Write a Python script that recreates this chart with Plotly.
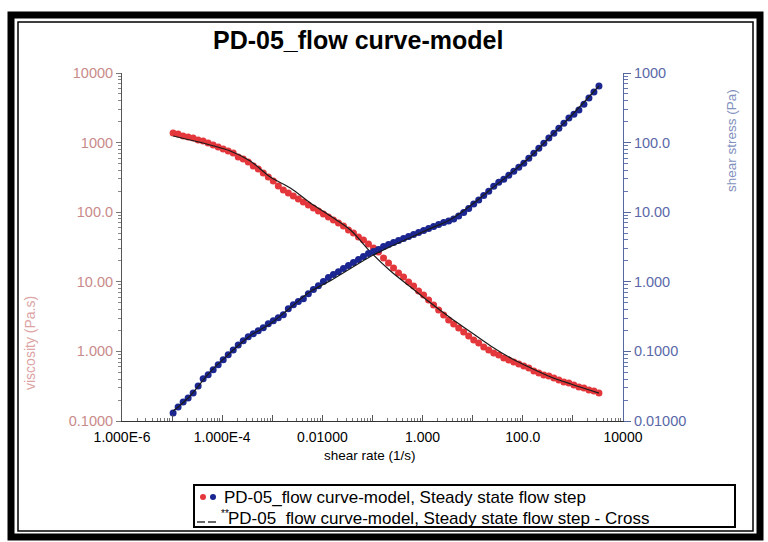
import plotly.graph_objects as go

# ---- measured flow curve (steady state flow step) ----
shear_rate = [
    1.047e-5, 1.318e-5, 1.660e-5, 2.089e-5, 2.630e-5, 3.311e-5, 4.169e-5, 5.248e-5, 6.607e-5, 8.318e-5,
    1.047e-4, 1.318e-4, 1.660e-4, 2.089e-4, 2.630e-4, 3.311e-4, 4.169e-4, 5.248e-4, 6.607e-4, 8.318e-4,
    1.047e-3, 1.318e-3, 1.660e-3, 2.089e-3, 2.630e-3, 3.311e-3, 4.169e-3, 5.248e-3, 6.607e-3, 8.318e-3,
    1.047e-2, 1.318e-2, 1.660e-2, 2.089e-2, 2.630e-2, 3.311e-2, 4.169e-2, 5.248e-2, 6.607e-2, 8.318e-2,
    0.1047, 0.1318, 0.1660, 0.2089, 0.2630, 0.3311, 0.4169, 0.5248, 0.6607, 0.8318,
    1.047, 1.318, 1.660, 2.089, 2.630, 3.311, 4.169, 5.248, 6.607, 8.318,
    10.47, 13.18, 16.60, 20.89, 26.30, 33.11, 41.69, 52.48, 66.07, 83.18,
    104.7, 131.8, 166.0, 208.9, 263.0, 331.1, 416.9, 524.8, 660.7, 831.8,
    1047, 1318, 1660, 2089, 2630, 3311,
]

viscosity = [
    1374, 1330, 1245, 1202, 1164, 1089, 1054, 986, 925, 865,
    809, 757, 710, 621, 581, 526, 461, 418, 366, 321,
    281, 238, 208, 189, 171, 155, 140, 127, 115, 104,
    94.2, 85.3, 77.3, 70.0, 63.4, 55.5, 50.2, 44.0, 39.9, 34.9,
    30.6, 26.8, 22.0, 18.6, 15.8, 13.4, 11.7, 9.93, 8.71, 7.38,
    6.46, 5.48, 4.65, 3.94, 3.33, 2.82, 2.48, 2.17, 1.90, 1.66,
    1.46, 1.32, 1.16, 1.05, 0.948, 0.887, 0.803, 0.752, 0.705, 0.659,
    0.617, 0.577, 0.522, 0.490, 0.458, 0.444, 0.415, 0.388, 0.363, 0.352,
    0.329, 0.308, 0.298, 0.279, 0.270, 0.252,
]

shear_stress = [
    0.0130, 0.0159, 0.0188, 0.0214, 0.0253, 0.0319, 0.0403, 0.0460, 0.0543, 0.0641,
    0.0757, 0.0893, 0.105, 0.124, 0.142, 0.162, 0.179, 0.198, 0.219, 0.250,
    0.276, 0.305, 0.337, 0.411, 0.469, 0.519, 0.573, 0.676, 0.773, 0.881,
    1.01, 1.15, 1.27, 1.40, 1.55, 1.71, 1.89, 2.09, 2.31, 2.55,
    2.72, 2.91, 3.21, 3.44, 3.67, 3.93, 4.19, 4.48, 4.79, 5.12,
    5.47, 5.85, 6.24, 6.67, 7.13, 7.50, 8.00, 8.80, 9.90, 11.3,
    13.1, 15.0, 17.4, 20.0, 23.6, 26.9, 29.7, 33.9, 38.7, 44.3,
    50.5, 59.6, 70.3, 83.0, 97.9, 116, 136, 161, 190, 225,
    256, 293, 357, 436, 532, 650,
]

# ---- Cross model fit ----
model_rate = [1.05e-5, 2.29e-5, 5.75e-5, 1.45e-4, 3.63e-4, 9.12e-4, 2.29e-3, 5.75e-3,
              0.0145, 0.0363, 0.0912, 0.229, 0.575, 1.45, 3.63, 9.12, 22.9, 57.5,
              145, 363, 912, 3311]
model_viscosity = [1245, 1089, 925, 757, 545, 321, 223, 136, 88.1, 55.5, 26.8, 14.3,
                   8.41, 4.95, 3.02, 1.90, 1.20, 0.803, 0.577, 0.429, 0.340, 0.252]
model_stress = [0.0139, 0.0229, 0.0508, 0.0955, 0.168, 0.250, 0.425, 0.723, 1.04, 1.55,
                2.31, 3.21, 4.34, 5.85, 7.87, 12.5, 21.3, 36.2, 63.7, 124, 240, 650]

# ---- axis tick labels ----
x_ticks = [1e-6, 1e-5, 1e-4, 1e-3, 1e-2, 1e-1, 1, 10, 100, 1000, 10000]
x_ticktext = ["1.000E-6", "", "1.000E-4", "", "0.01000", "", "1.000", "", "100.0", "", "10000"]
y_ticks = [0.1, 1, 10, 100, 1000, 10000]
y_ticktext = ["0.1000", "1.000", "10.00", "100.0", "1000", "10000"]
y2_ticks = [0.01, 0.1, 1, 10, 100, 1000]
y2_ticktext = ["0.01000", "0.1000", "1.000", "10.00", "100.0", "1000"]

TITLE = "PD-05_flow curve-model"
LEGEND_1 = "PD-05_flow curve-model, Steady state flow step"
LEGEND_2 = "PD-05_flow curve-model, Steady state flow step - Cross"

FONT = "Liberation Sans, Arial, sans-serif"
RED = "#e3373c"
BLUE = "#1b2690"

W, H = 768, 542
ML, MR, MT, MB = 122, 145, 73, 121
PW, PH = W - ML - MR, H - MT - MB


def px(x):
    return (x - ML) / PW


def py(y):
    return (H - MB - y) / PH


def minor_vals(lo, hi):
    return [m * 10.0 ** d for d in range(lo, hi) for m in range(2, 10)]


fig = go.Figure()
fig.add_trace(go.Scatter(x=shear_rate, y=viscosity, mode="markers",
                         marker=dict(color=RED, size=7, line=dict(width=0)), yaxis="y"))
fig.add_trace(go.Scatter(x=shear_rate, y=shear_stress, mode="markers",
                         marker=dict(color=BLUE, size=7, line=dict(width=0)), yaxis="y2"))
fig.add_trace(go.Scatter(x=model_rate, y=model_viscosity, mode="lines",
                         line=dict(color="#1a1a1a", width=1.2, shape="spline"), yaxis="y"))
fig.add_trace(go.Scatter(x=model_rate, y=model_stress, mode="lines",
                         line=dict(color="#1a1a1a", width=1.2, shape="spline"), yaxis="y2"))

fig.update_layout(
    width=W, height=H,
    margin=dict(l=ML, r=MR, t=MT, b=MB, pad=0),
    paper_bgcolor="white", plot_bgcolor="white",
    showlegend=False,
    font=dict(family=FONT),
    xaxis=dict(
        type="log", range=[-6, 4], showgrid=False, zeroline=False,
        showline=True, linecolor="#333333", linewidth=1,
        tickmode="array", tickvals=x_ticks, ticktext=x_ticktext,
        ticks="inside", ticklen=6, tickcolor="#555555", ticklabelstandoff=3,
        tickfont=dict(size=14, color="black", family=FONT),
        minor=dict(tickmode="array", tickvals=minor_vals(-6, 4), ticks="inside",
                   ticklen=3, tickcolor="#777777"),
    ),
    yaxis=dict(
        type="log", range=[-1, 4], showgrid=False, zeroline=False,
        showline=True, linecolor="#555555", linewidth=1,
        tickmode="array", tickvals=y_ticks, ticktext=y_ticktext,
        ticks="outside", ticklen=5, tickcolor="#777777",
        tickfont=dict(size=14.5, color="#c98a8a", family=FONT),
        minor=dict(tickmode="array", tickvals=minor_vals(-1, 4), ticks="outside",
                   ticklen=3, tickcolor="#888888"),
    ),
    yaxis2=dict(
        type="log", range=[-2, 3], overlaying="y", side="right",
        showgrid=False, zeroline=False,
        showline=True, linecolor="#5566a0", linewidth=1,
        tickmode="array", tickvals=y2_ticks, ticktext=y2_ticktext,
        ticks="outside", ticklen=7, tickcolor="#5566a0",
        tickfont=dict(size=14.5, color="#5a68a8", family=FONT),
        minor=dict(tickmode="array", tickvals=minor_vals(-2, 3), ticks="outside",
                   ticklen=4, tickcolor="#6676b0"),
    ),
)

annotations = [
    dict(text="<b>" + TITLE + "</b>", x=px(358), y=py(40),
         font=dict(size=25, color="black", family=FONT)),
    dict(text="shear rate (1/s)", x=px(370), y=py(455),
         font=dict(size=13.5, color="black", family=FONT)),
    dict(text="viscosity (Pa.s)", x=px(30), y=py(343), textangle=-90,
         font=dict(size=14, color="#dca4a4", family=FONT)),
    dict(text="shear stress (Pa)", x=px(731), y=py(141), textangle=-90,
         font=dict(size=13.5, color="#8290bd", family=FONT)),
    dict(text=LEGEND_1, x=px(222), y=py(497), xanchor="left",
         font=dict(size=17, color="black", family=FONT)),
    dict(text=LEGEND_2, x=px(226), y=py(518), xanchor="left",
         font=dict(size=17, color="black", family=FONT)),
    dict(text="**", x=px(219), y=py(513), xanchor="left",
         font=dict(size=10, color="black", family=FONT)),
]
for a in annotations:
    a.setdefault("xanchor", "center")
    a.update(xref="paper", yref="paper", yanchor="middle", showarrow=False)
fig.update_layout(annotations=annotations)

shapes = [
    # page frame: heavy outer border and thin inner rule
    dict(type="rect", x0=px(11), x1=px(760), y0=py(15), y1=py(537),
         line=dict(color="black", width=7)),
    dict(type="rect", x0=px(18), x1=px(753), y0=py(22), y1=py(531),
         line=dict(color="black", width=1.5)),
    # legend box
    dict(type="rect", x0=px(194), x1=px(735), y0=py(485), y1=py(527),
         line=dict(color="black", width=2), fillcolor="white"),
    # legend symbols
    dict(type="circle", x0=px(200), x1=px(206), y0=py(494), y1=py(500),
         fillcolor=RED, line=dict(width=0)),
    dict(type="circle", x0=px(210), x1=px(216), y0=py(494), y1=py(500),
         fillcolor=BLUE, line=dict(width=0)),
    dict(type="line", x0=px(197), x1=px(205), y0=py(522), y1=py(522),
         line=dict(color="black", width=1.2)),
    dict(type="line", x0=px(208), x1=px(216), y0=py(522), y1=py(522),
         line=dict(color="black", width=1.2)),
]
for s in shapes:
    s.update(xref="paper", yref="paper", layer="above")
fig.update_layout(shapes=shapes)

fig.write_html("out.html")
